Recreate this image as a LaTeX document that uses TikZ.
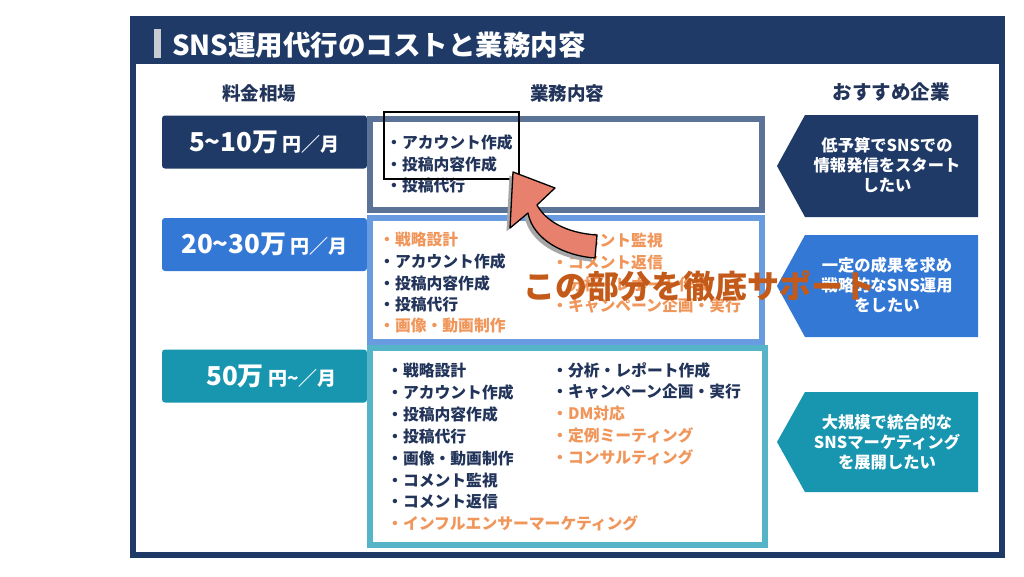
\documentclass[tikz,border=0pt]{standalone}
\usepackage{fontspec}
\setmainfont{Noto Sans CJK JP}
\usetikzlibrary{shadows}
\definecolor{navy}{HTML}{1F3A66}
\definecolor{blue}{HTML}{3478D6}
\definecolor{teal}{HTML}{1896B0}
\definecolor{line1}{HTML}{5A7396}
\definecolor{line2}{HTML}{699BE1}
\definecolor{line3}{HTML}{55B4C8}
\definecolor{ink}{HTML}{22345A}
\definecolor{ora}{HTML}{F0965A}
\definecolor{rust}{HTML}{C35A19}
\definecolor{salmon}{HTML}{E8806E}
\definecolor{barcol}{HTML}{C8CCD2}
\tikzset{
% boxes of the price column and the task column
price box/.style={rounded corners=3,inner sep=0,minimum width=205,minimum height=53,text=white,font=\bfseries},
task box/.style={line width=6,fill=white,inner sep=0,minimum width=392},
% one line of a task list
item/.style={anchor=west,inner sep=0,font=\fontsize{15.8}{15.8}\selectfont\bfseries},
% text in the arrow shapes on the right
wish/.style={align=center,text=white,inner sep=0,font=\fontsize{16.3}{20}\selectfont\bfseries},
head/.style={text=ink,inner sep=0,font=\fontsize{18.5}{18.5}\selectfont\bfseries}
}
\newcommand\yen[2]{{\fontsize{26}{26}\selectfont #1}{\fontsize{19}{19}\selectfont #2}}

\begin{document}
\begin{tikzpicture}[x=1pt,y=-1pt]
      \useasboundingbox[fill=white] (0,0) rectangle (1024,576);
      % frame and title band
      \fill[navy] (130,16) rectangle (1005,558);
      \fill[white] (136,64) rectangle (999,552);
      \fill[barcol] (154,29) rectangle (161,58);
      \node(title)[anchor=west,text=white,inner sep=0,font=\fontsize{27.5}{27.5}\selectfont\bfseries] at (172,45) {SNS運用代行のコストと業務内容};
      % column heads
      \node(h1)[head] at (259,93) {料金相場};
      \node(h2)[head] at (567,93) {業務内容};
      \node(h3)[head,font=\fontsize{19.5}{19.5}\selectfont\bfseries] at (891,92) {おすすめ企業};
      % price column
      \node(p1)[price box,fill=navy] at (264.5,142) {\yen{5\textasciitilde10万}{ 円／月}};
      \node(p2)[price box,fill=blue] at (264.5,244.5) {\yen{20\textasciitilde30万}{ 円／月}};
      \node(p3)[price box,fill=teal] at (264.5,376) {\hspace{14pt}\yen{50万}{ 円\textasciitilde／月}};
      % task column
      \node(m1)[task box,draw=line1,minimum height=91] at (566,164.5) {};
      \node(m2)[task box,draw=line2,minimum height=124] at (566,280) {};
      \node(m3)[task box,draw=line3,minimum height=197,minimum width=395] at (567.5,446.5) {};
      \foreach \t [count=\k] in {アカウント作成,投稿内容作成,投稿代行}
        \node(a\k)[item,text=ink] at (386,{142+22*(\k-1)}) {・\t};
      \foreach \t/\c [count=\k] in {戦略設計/ora,アカウント作成/ink,投稿内容作成/ink,投稿代行/ink,画像・動画制作/ora}
        \node(b\k)[item,text=\c] at (379,{240+21.5*(\k-1)}) {・\t};
      \foreach \t [count=\k] in {コメント監視,コメント返信,分析・レポート作成,キャンペーン企画・実行}
        \node(bb\k)[item,text=ora] at (552,{240+22*(\k-1)}) {・\t};
      \foreach \t/\c [count=\k] in {戦略設計/ink,アカウント作成/ink,投稿内容作成/ink,投稿代行/ink,画像・動画制作/ink,コメント監視/ink,コメント返信/ink,インフルエンサーマーケティング/ora}
        \node(c\k)[item,text=\c] at (387,{371+21.8*(\k-1)}) {・\t};
      \foreach \t/\c [count=\k] in {分析・レポート作成/ink,キャンペーン企画・実行/ink,DM対応/ora,定例ミーティング/ora,コンサルティング/ora}
        \node(cc\k)[item,text=\c] at (552,{370+21.8*(\k-1)}) {・\t};
      % arrow shapes on the right
      \fill[navy] (805,115) -- (978,115) -- (978,217) -- (805,217) -- (777,166) -- cycle;
      \node(r1)[wish] at (887,165) {低予算でSNSでの\\情報発信をスタート\\したい};
      \fill[blue] (805,235) -- (978,235) -- (978,337) -- (805,337) -- (777,286) -- cycle;
      \node(r2)[wish] at (887,285) {一定の成果を求め\\戦略的なSNS運用\\をしたい};
      \fill[teal] (805,392) -- (978,392) -- (978,492) -- (805,492) -- (777,442) -- cycle;
      \node(r3)[wish] at (887,442) {大規模で統合的な\\SNSマーケティング\\を展開したい};
      % highlight and curved arrow
      \draw[line width=2] (384,112) rectangle (519,179);
      \draw[line width=1.3,line join=round,fill=salmon,drop shadow={shadow xshift=-3.5pt,shadow yshift=-3.5pt,fill=gray!70,opacity=1}]
        (513,172) -- (555,188) -- (537,205) .. controls (545,220) and (565,233) .. (597,235)
        -- (595,258) .. controls (565,256) and (533,240) .. (528,213) -- (510,228) -- cycle;
      \node(note)[text=rust,inner sep=0,font=\fontsize{32}{32}\selectfont\bfseries] at (699,286) {この部分を徹底サポート};
    \end{tikzpicture}
\end{document}
